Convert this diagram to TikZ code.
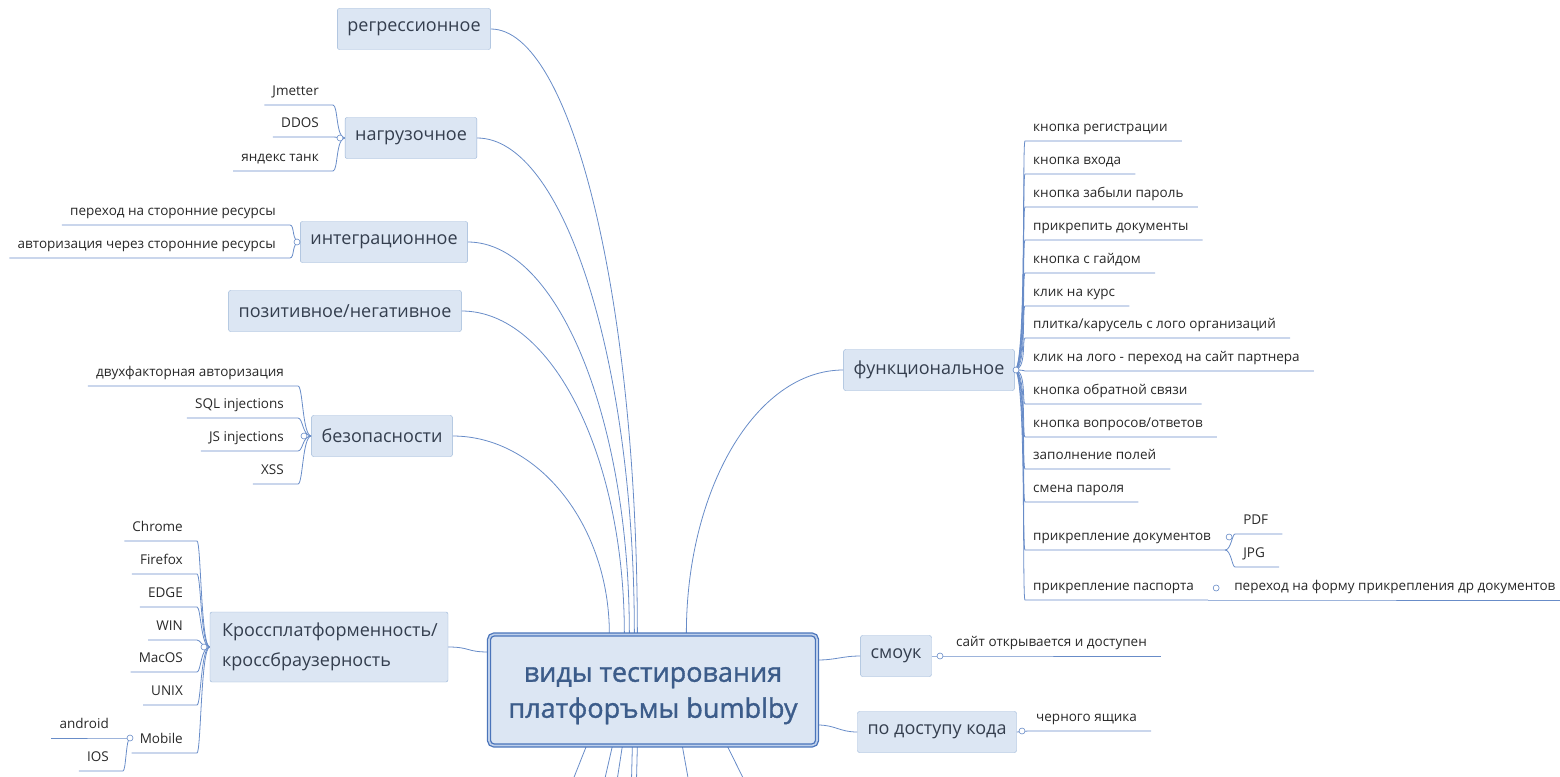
\documentclass[tikz,border=0pt]{standalone}
\usepackage{fontspec}
\setmainfont{Open Sans}
\newfontfamily\hubfont[FakeBold=1.2]{Open Sans}
\usetikzlibrary{backgrounds}
\definecolor{linec}{RGB}{104,140,200}
\definecolor{boxfill}{RGB}{220,230,243}
\definecolor{boxdraw}{RGB}{150,178,214}
\definecolor{topictext}{RGB}{52,62,78}
\definecolor{leaftext}{RGB}{40,40,40}
\definecolor{hubline}{RGB}{74,116,186}
\definecolor{hubgap}{RGB}{190,208,235}
\definecolor{hubtext}{RGB}{60,92,138}
\newcommand{\topicsize}{\fontsize{18}{30}\selectfont}
\newcommand{\leafsize}{\fontsize{13.5}{16}\selectfont}
\newcommand{\hubsize}{\hubfont\fontsize{27}{36}\selectfont}

\begin{document}
\begin{tikzpicture}[x=1pt,y=-1pt,
  topic/.style={draw=boxdraw, fill=boxfill, rounded corners=2pt, font=\topicsize, text=topictext, minimum height=41pt, inner xsep=10pt},
  hub/.style={draw=hubline, line width=1.3pt, double=hubgap, double distance=1.6pt, fill=boxfill, rounded corners=5pt, minimum width=328pt, minimum height=111pt, font=\hubsize, text=hubtext, align=center},
  leaf/.style={font=\leafsize, text=leaftext, inner xsep=8pt, inner ysep=1pt, text height=10pt, text depth=8pt, execute at end node=\hspace{6pt}},
  knob/.style={circle, draw=linec, fill=white, inner sep=0pt, minimum size=6pt, line width=0.6pt},
  stem/.style={draw=linec, line width=0.8pt}]
\useasboundingbox (0,0) rectangle (1560,776);
\clip (0,0) rectangle (1560,776);

\node[hub] (hub) at (653,690) {\rule{0pt}{26pt}виды тестирования\\платфоръмы bumblby};

\node[topic] (reg) at (414,29) {регрессионное};
\node[topic] (nag) at (411,138) {нагрузочное};
\node[topic] (integ) at (384,242) {интеграционное};
\node[topic] (pozit) at (345,311) {позитивное/негативное};
\node[topic] (bez) at (382,436) {безопасности};
\node[topic, align=left, minimum height=70pt, minimum width=238pt, text width=214pt] (kross) at (329,647) {Кроссплатформенность/\\кроссбраузерность};
\node[topic] (func) at (929,370) {функциональное};
\node[topic] (smoke) at (896,656) {смоук};
\node[topic] (dostup) at (937,732) {по доступу кода};

%nag
\node[leaf, anchor=south east] (nag1) at (333,105) {Jmetter};
\node[leaf, anchor=south east] (nag2) at (333,137) {DDOS};
\node[leaf, anchor=south east] (nag3) at (333,171) {яндекс танк};
%integ
\node[leaf, anchor=south east] (int1) at (290,225) {переход на сторонние ресурсы};
\node[leaf, anchor=south east] (int2) at (290,258) {авторизация через сторонние ресурсы};
%bez
\node[leaf, anchor=south east] (bez1) at (298,386) {двухфакторная авторизация};
\node[leaf, anchor=south east] (bez2) at (298,418) {SQL injections};
\node[leaf, anchor=south east] (bez3) at (298,451) {JS injections};
\node[leaf, anchor=south east] (bez4) at (298,484) {XSS};
%kross
\node[leaf, anchor=south east] (kr1) at (197,541) {Chrome};
\node[leaf, anchor=south east] (kr2) at (197,574) {Firefox};
\node[leaf, anchor=south east] (kr3) at (197,607) {EDGE};
\node[leaf, anchor=south east] (kr4) at (197,640) {WIN};
\node[leaf, anchor=south east] (kr5) at (197,672) {MacOS};
\node[leaf, anchor=south east] (kr6) at (197,705) {UNIX};
\node[leaf, anchor=south east] (kr7) at (197,753) {Mobile};
\node[leaf, anchor=south east] (mob1) at (123,738) {android};
\node[leaf, anchor=south east] (mob2) at (123,771) {IOS};
%func
\node[leaf, anchor=south west] (f1) at (1025,141) {кнопка регистрации};
\node[leaf, anchor=south west] (f2) at (1025,174) {кнопка входа};
\node[leaf, anchor=south west] (f3) at (1025,207) {кнопка забыли пароль};
\node[leaf, anchor=south west] (f4) at (1025,240) {прикрепить документы};
\node[leaf, anchor=south west] (f5) at (1025,273) {кнопка с гайдом};
\node[leaf, anchor=south west] (f6) at (1025,306) {клик на курс};
\node[leaf, anchor=south west] (f7) at (1025,338) {плитка/карусель с лого организаций};
\node[leaf, anchor=south west] (f8) at (1025,371) {клик на лого - переход на сайт партнера};
\node[leaf, anchor=south west] (f9) at (1025,404) {кнопка обратной связи};
\node[leaf, anchor=south west] (f10) at (1025,437) {кнопка вопросов/ответов};
\node[leaf, anchor=south west] (f11) at (1025,469) {заполнение полей};
\node[leaf, anchor=south west] (f12) at (1025,502) {смена пароля};
\node[leaf, anchor=south west] (f13) at (1025,550) {прикрепление документов};
\node[leaf, anchor=south west] (f14) at (1025,600) {прикрепление паспорта};
\node[leaf, anchor=south west] (pdf) at ([xshift=10pt,yshift=16pt]f13.south east) {PDF};
\node[leaf, anchor=south west] (jpg) at ([xshift=10pt,yshift=-17pt]f13.south east) {JPG};
\node[leaf, anchor=south west] (pas1) at ([xshift=18pt]f14.south east) {переход на форму прикрепления др документов};
%smoke, dostup
\node[leaf, anchor=south west] (sm1) at (948,656) {сайт открывается и доступен};
\node[leaf, anchor=south west] (dos1) at (1028,731) {черного ящика};

%knobs
\node[knob] (knag) at (340,138) {};
\node[knob] (kint) at (297,242) {};
\node[knob] (kbez) at (304,436) {};
\node[knob] (kkr) at (204,647) {};
\node[knob] (kmob) at (130,738) {};
\node[knob] (kfunc) at (1016,370) {};
\node[knob] (kdoc) at ([xshift=4pt,yshift=13pt]f13.south east) {};
\node[knob] (kpas) at ([xshift=8pt,yshift=12pt]f14.south east) {};
\node[knob] (ksm) at (940,656) {};
\node[knob] (kdos) at (1022,731) {};

\coordinate (d1) at (565,800);
\coordinate (d2) at (600,800);
\coordinate (d3) at (614,800);
\coordinate (d4) at (631,800);
\coordinate (d5) at (636,800);
\coordinate (d6) at (692,800);
\coordinate (d7) at (754,800);

\begin{scope}[on background layer]
%hub
\draw[stem] ([xshift=149pt]hub.north west) .. controls +(0,-333) and +(81,0) .. (reg.east);
\draw[stem] ([xshift=146pt]hub.north west) .. controls +(0,-272) and +(87,0) .. (nag.east);
\draw[stem] ([xshift=141pt]hub.north west) .. controls +(0,-215) and +(90,0) .. (integ.east);
\draw[stem] ([xshift=136pt]hub.north west) .. controls +(0,-177) and +(91,0) .. (pozit.east);
\draw[stem] ([xshift=121pt]hub.north west) .. controls +(0,-108) and +(86,0) .. (bez.east);
\draw[stem] (kross.east) .. controls +(22,0) and +(-22,0) .. ([yshift=38pt]hub.west);
\draw[stem] ([xshift=198pt]hub.north west) .. controls +(0,-144) and +(-88,0) .. (func.west);
\draw[stem] ([yshift=30pt]hub.east) .. controls +(18,0) and +(-18,0) .. (smoke.west);
\draw[stem] ([yshift=-35pt]hub.east) .. controls +(18,0) and +(-18,0) .. (dostup.west);
\draw[stem] ([xshift=98pt]hub.south west) -- (d1);
\draw[stem] ([xshift=124pt]hub.south west) -- (d2);
\draw[stem] ([xshift=134pt]hub.south west) -- (d3);
\draw[stem] ([xshift=144pt]hub.south west) -- (d4);
\draw[stem] ([xshift=149pt]hub.south west) -- (d5);
\draw[stem] ([xshift=194pt]hub.south west) -- (d6);
\draw[stem] ([xshift=239pt]hub.south west) -- (d7);
%nag
\draw[stem] (nag.west) .. controls +(-9,0) and +(5,0) .. (nag1.south east) -- (nag1.south west);
\draw[stem] (nag.west) .. controls +(-9,0) and +(5,0) .. (nag2.south east) -- (nag2.south west);
\draw[stem] (nag.west) .. controls +(-9,0) and +(5,0) .. (nag3.south east) -- (nag3.south west);
%integ
\draw[stem] (integ.west) .. controls +(-9,0) and +(5,0) .. (int1.south east) -- (int1.south west);
\draw[stem] (integ.west) .. controls +(-9,0) and +(5,0) .. (int2.south east) -- (int2.south west);
%bez
\draw[stem] (bez.west) .. controls +(-9,0) and +(5,0) .. (bez1.south east) -- (bez1.south west);
\draw[stem] (bez.west) .. controls +(-9,0) and +(5,0) .. (bez2.south east) -- (bez2.south west);
\draw[stem] (bez.west) .. controls +(-9,0) and +(5,0) .. (bez3.south east) -- (bez3.south west);
\draw[stem] (bez.west) .. controls +(-9,0) and +(5,0) .. (bez4.south east) -- (bez4.south west);
%kross
\draw[stem] (kross.west) .. controls +(-9,0) and +(4,0) .. (kr1.south east) -- (kr1.south west);
\draw[stem] (kross.west) .. controls +(-9,0) and +(4,0) .. (kr2.south east) -- (kr2.south west);
\draw[stem] (kross.west) .. controls +(-9,0) and +(4,0) .. (kr3.south east) -- (kr3.south west);
\draw[stem] (kross.west) .. controls +(-9,0) and +(4,0) .. (kr4.south east) -- (kr4.south west);
\draw[stem] (kross.west) .. controls +(-9,0) and +(4,0) .. (kr5.south east) -- (kr5.south west);
\draw[stem] (kross.west) .. controls +(-9,0) and +(4,0) .. (kr6.south east) -- (kr6.south west);
\draw[stem] (kross.west) .. controls +(-9,0) and +(4,0) .. (kr7.south east) -- (kr7.south west);
\draw[stem] (kmob.center) .. controls +(-4,0) and +(3,0) .. (mob1.south east) -- (mob1.south west);
\draw[stem] (kmob.center) .. controls +(-4,0) and +(3,0) .. (mob2.south east) -- (mob2.south west);
%func
\draw[stem] (func.east) .. controls +(12,0) and +(-3,0) .. (f1.south west) -- (f1.south east);
\draw[stem] (func.east) .. controls +(12,0) and +(-3,0) .. (f2.south west) -- (f2.south east);
\draw[stem] (func.east) .. controls +(12,0) and +(-3,0) .. (f3.south west) -- (f3.south east);
\draw[stem] (func.east) .. controls +(12,0) and +(-3,0) .. (f4.south west) -- (f4.south east);
\draw[stem] (func.east) .. controls +(12,0) and +(-3,0) .. (f5.south west) -- (f5.south east);
\draw[stem] (func.east) .. controls +(12,0) and +(-3,0) .. (f6.south west) -- (f6.south east);
\draw[stem] (func.east) .. controls +(12,0) and +(-3,0) .. (f7.south west) -- (f7.south east);
\draw[stem] (func.east) .. controls +(12,0) and +(-3,0) .. (f8.south west) -- (f8.south east);
\draw[stem] (func.east) .. controls +(12,0) and +(-3,0) .. (f9.south west) -- (f9.south east);
\draw[stem] (func.east) .. controls +(12,0) and +(-3,0) .. (f10.south west) -- (f10.south east);
\draw[stem] (func.east) .. controls +(12,0) and +(-3,0) .. (f11.south west) -- (f11.south east);
\draw[stem] (func.east) .. controls +(12,0) and +(-3,0) .. (f12.south west) -- (f12.south east);
\draw[stem] (func.east) .. controls +(12,0) and +(-3,0) .. (f13.south west) -- (f13.south east);
\draw[stem] (func.east) .. controls +(12,0) and +(-3,0) .. (f14.south west) -- (f14.south east);
\draw[stem] (f13.south east) .. controls +(6,0) and +(-3,0) .. (pdf.south west) -- (pdf.south east);
\draw[stem] (f13.south east) .. controls +(6,0) and +(-3,0) .. (jpg.south west) -- (jpg.south east);
\draw[stem] (f14.south east) -- (pas1.south west) -- (pas1.south east);
%smoke, dostup
\draw[stem] (smoke.east) -- (sm1.south west) -- (sm1.south east);
\draw[stem] (dostup.east) -- (dos1.south west) -- (dos1.south east);
\end{scope}
\end{tikzpicture}
\end{document}
